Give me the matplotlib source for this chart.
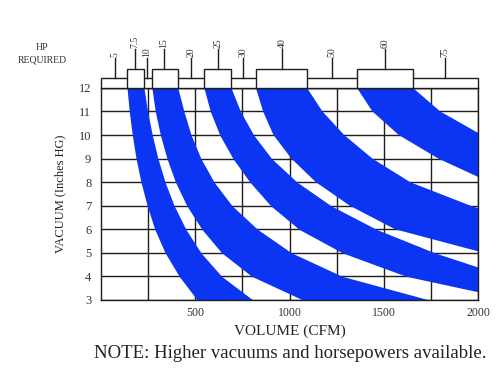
import matplotlib
matplotlib.use('Agg')
import matplotlib.pyplot as plt
from matplotlib.patches import Rectangle

plt.rcParams['font.family'] = ['Liberation Serif', 'DejaVu Serif']

# vacuum levels (inches HG) where band edges were read
vacuum = [12, 11, 10, 9, 8, 7, 6, 5, 4, 3]

# CFM at each vacuum level, inner (left) and outer (right) edge of each band
band1_in = [138, 150, 166, 186, 212, 245, 285, 340, 415, 510]
band1_out = [228, 247, 272, 302, 340, 388, 450, 530, 640, 805]
band2_in = [270, 288, 315, 350, 395, 455, 535, 640, 800, 1070]
band2_out = [408, 440, 478, 530, 600, 695, 830, 1010, 1280, 1740]
band3_in = [546, 580, 630, 700, 790, 900, 1050, 1280, 1620, 2200]
band3_out = [690, 740, 810, 905, 1040, 1220, 1460, 1770, 2150, 2700]
band4_in = [822, 860, 915, 1010, 1140, 1320, 1560, 2030, 2500, 3300]
band4_out = [1093, 1175, 1290, 1440, 1640, 1960, 2350, 2900, 3600, 4500]
band5_in = [1358, 1440, 1580, 1790, 2060, 2400, 2800, 3300, 4000, 5000]
band5_out = [1655, 1800, 2020, 2300, 2650, 3100, 3600, 4200, 5000, 6000]

bands = [(band1_in, band1_out), (band2_in, band2_out), (band3_in, band3_out),
         (band4_in, band4_out), (band5_in, band5_out)]

# horsepower scale above the chart
hp_labels = ['5', '7.5', '10', '15', '20', '25', '30', '40', '50', '60', '75']
hp_cfm = [74, 180, 244, 334, 477, 620, 753, 960, 1225, 1506, 1825]
hp_boxed = [False, True, False, True, False, True, False, True, False, True, False]

blue = '#0b35f2'
ink = '#1e1e1e'

fig = plt.figure(figsize=(5, 3.84), dpi=100)
ax = fig.add_axes([0.202, 0.219, 0.754, 0.552])

for b_in, b_out in bands:
    ax.fill_betweenx(vacuum, b_in, b_out, color=blue, lw=0, zorder=2)

ax.set_xlim(0, 2000)
ax.set_ylim(3, 12)
ax.set_xticks(range(250, 2000, 250), minor=True)
ax.set_xticks([500, 1000, 1500, 2000])
ax.set_yticks(range(3, 13))
ax.grid(True, which='both', color=ink, lw=1.0)
ax.set_axisbelow(True)
ax.tick_params(which='both', length=0, labelsize=9, colors='#333333')
ax.tick_params(axis='y', pad=7)
ax.tick_params(axis='x', pad=5, labelsize=8.5)
for sp in ax.spines.values():
    sp.set_color(ink)
    sp.set_linewidth(1.0)
    sp.set_zorder(3)

# HP strip and boxes
strip_h = 0.43
box_h = 0.81
ax.add_patch(Rectangle((0, 12), 2000, strip_h, fc='white', ec=ink, lw=1.0,
                       clip_on=False, zorder=4))
for b_in, b_out in bands:
    ax.add_patch(Rectangle((b_in[0], 12), b_out[0] - b_in[0], box_h, fc='white',
                           ec=ink, lw=1.0, clip_on=False, zorder=5))

for lab, x, boxed in zip(hp_labels, hp_cfm, hp_boxed):
    base = 12 + (box_h if boxed else strip_h)
    ax.plot([x, x], [base, base + 0.85], color=ink, lw=1.0, clip_on=False, zorder=5)
    ax.text(x, base + 0.9, lab, rotation=90, ha='center', va='bottom',
            fontsize=7, color='#333333')

fig.text(42 / 500, 1 - 48 / 384, 'HP', ha='center', va='center', fontsize=7, color='#333333')
fig.text(42 / 500, 1 - 60 / 384, 'REQUIRED', ha='center', va='center', fontsize=7, color='#333333')

ax.set_xlabel('VOLUME (CFM)', fontsize=11, labelpad=4, color='#222222')
ax.set_ylabel('VACUUM (Inches HG)', fontsize=9, labelpad=9, color='#222222')

fig.text(290 / 500, 1 - 354 / 384, 'NOTE: Higher vacuums and horsepowers available.',
         ha='center', va='center', fontsize=13.5, color='#222222')

fig.savefig('out.png', dpi=100, facecolor='white')
